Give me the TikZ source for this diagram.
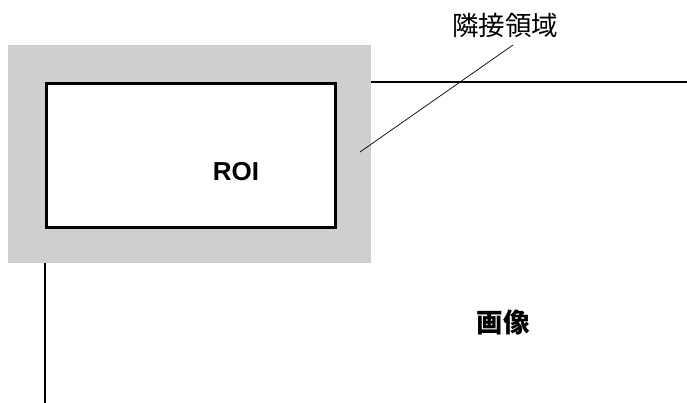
\documentclass[tikz,border=0pt]{standalone}
\usepackage{fontspec}
\setmainfont{Liberation Sans}
\newfontfamily\cjk{Noto Sans CJK JP}
\begin{document}
\begin{tikzpicture}[x=1pt,y=-1pt,
  thick line/.style={line width=2.6pt,black},
  leader/.style={line width=0.7pt,black},
  label/.style={inner sep=0pt,font=\fontsize{26}{30}\selectfont}]
\useasboundingbox (0,0) rectangle (687,403);
\fill[gray!38] (8,45) rectangle (371,263);
\node[draw,line width=2.6pt,fill=white,minimum width=289,minimum height=144,inner sep=0pt,anchor=north west] (roi) at (45,82) {};
\node[label,font=\fontsize{26}{30}\selectfont\bfseries] (roitext) at (236,172) {ROI};
\coordinate (hstart) at (371,82);
\coordinate (hend) at (687,82);
\draw[thick line] (hstart) -- (hend);
\coordinate (vstart) at (45,263);
\coordinate (vend) at (45,403);
\draw[thick line] (vstart) -- (vend);
\node[label,font=\fontsize{26.5}{30}\cjk] (adj) at (505,25) {隣接領域};
\coordinate (lstart) at (513,45);
\coordinate (lend) at (360,152);
\draw[leader] (lstart) -- (lend);
\node[label,font=\fontsize{26.5}{30}\cjk\bfseries] (img) at (503,322) {画像};
\end{tikzpicture}
\end{document}
